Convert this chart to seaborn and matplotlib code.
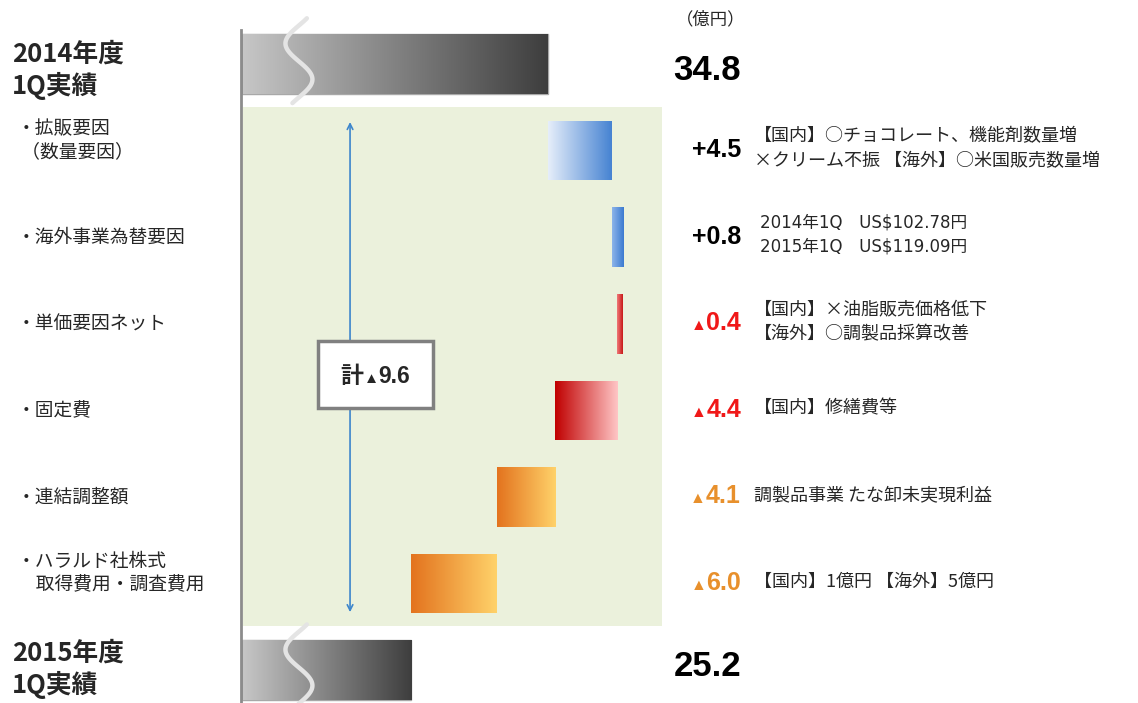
import numpy as np
import pandas as pd
import seaborn as sns
import matplotlib.pyplot as plt
import matplotlib.transforms as mtransforms
from matplotlib.patches import Rectangle
from matplotlib.colors import LinearSegmentedColormap

# 営業利益 増減要因 (億円)
items = ['2014年度1Q実績', '拡販要因', '海外事業為替要因', '単価要因ネット',
         '固定費', '連結調整額', 'ハラルド社株式取得費用・調査費用', '2015年度1Q実績']
row_labels = ['2014年度\n1Q実績', '・拡販要因\n （数量要因）', '・海外事業為替要因', '・単価要因ネット',
              '・固定費', '・連結調整額', '・ハラルド社株式\n\u3000取得費用・調査費用', '2015年度\n1Q実績']
base_value = 34.8
changes = [4.5, 0.8, -0.4, -4.4, -4.1, -6.0]
final_value = 25.2
total_label = ['計', '▲', '9.6']
value_labels = ['34.8', '+4.5', '+0.8', '▲0.4', '▲4.4', '▲4.1', '▲6.0', '25.2']
notes = ['',
         '【国内】○チョコレート、機能剤数量増\n×クリーム不振 【海外】○米国販売数量増',
         '2014年1Q\u3000US$102.78円\n2015年1Q\u3000US$119.09円',
         '【国内】×油脂販売価格低下\n【海外】○調製品採算改善',
         '【国内】修繕費等',
         '調製品事業 たな卸未実現利益',
         '【国内】1億円 【海外】5億円',
         '']
unit_label = '（億円）'

# bar start / end of the waterfall
starts, ends = [0.0], [base_value]
run = base_value
for c in changes:
    starts.append(run)
    run = round(run + c, 1)
    ends.append(run)
starts.append(0.0)
ends.append(final_value)
df = pd.DataFrame({'item': items, 'start': starts, 'end': ends})

grad_colors = [('#c6c6c6', '#3e3e3e'), ('#e6eefa', '#4683d2'), ('#8db5ea', '#3b7ad0'),
               ('#f07a7a', '#c81818'), ('#c00000', '#ffc6c6'), ('#e3731e', '#ffd26a'),
               ('#e3731e', '#ffd26a'), ('#c6c6c6', '#3e3e3e')]
value_colors = ['#000000', '#000000', '#000000', '#f01818', '#f01818', '#e8902c', '#e8902c', '#000000']

sns.set_style('white')
plt.rcParams['font.family'] = ['Noto Sans CJK JP', 'DejaVu Sans']

fig = plt.figure(figsize=(11.38, 7.03), dpi=100)
ax = fig.add_axes([241 / 1138, 0, 421 / 1138, 1])

sns.barplot(data=df, y='item', x='end', order=items, orient='h', width=0.69,
            color='#999999', saturation=1, errorbar=None, ax=ax, zorder=2)

xmin, xmax = 13.2, 42.85
ymin, ymax = -0.739, 7.379
bars = ax.containers[0].patches
for i, p in enumerate(bars):
    s, e = df.loc[i, 'start'], df.loc[i, 'end']
    lo, hi = min(s, e), max(s, e)
    p.set_x(lo)
    p.set_width(hi - lo)
    total = i in (0, len(items) - 1)
    p.set_edgecolor('#a8a8a8' if total else 'none')
    p.set_linewidth(1 if total else 0)
    cmap = LinearSegmentedColormap.from_list('g%d' % i, grad_colors[i])
    y0 = p.get_y()
    h = p.get_height()
    x0 = max(lo, xmin + 0.14)
    im = ax.imshow(np.linspace(0, 1, 256).reshape(1, -1), cmap=cmap, aspect='auto',
                   extent=[x0, hi, y0 + h, y0], zorder=2.1, interpolation='bilinear')
    im.set_clip_path(p)
    if total:
        # axis break mark
        t = np.linspace(-0.1, 1.08, 80)
        ys = y0 - 0.1 + t * (h + 0.14)
        xs = 17.28 - 0.95 * np.sin(2 * np.pi * t)
        ax.plot(xs, ys, color='#e4e4e4', lw=3.2, zorder=3, solid_capstyle='round')

# shaded panel for the change factors
ax.add_patch(Rectangle((xmin + 0.14, 0.5), xmax - xmin, 5.99, facecolor='#ebf1dc',
                       edgecolor='none', zorder=0))

# total change arrow and box
ax.annotate('', xy=(20.88, 0.67), xytext=(20.88, 6.33),
            arrowprops=dict(arrowstyle='<->', color='#3d86cc', lw=1.2,
                            shrinkA=0, shrinkB=0), zorder=3)
ax.add_patch(Rectangle((22.67 - 4.05, 3.585 - 0.387), 8.1, 0.774, facecolor='white',
                       edgecolor='#808080', lw=2.5, zorder=4))

ax.set_xlim(xmin, xmax)
ax.set_ylim(ymax, ymin)
ax.set_xticks([])
ax.set_yticks([])
ax.set_xlabel('')
ax.set_ylabel('')
for side in ('top', 'right', 'bottom'):
    ax.spines[side].set_visible(False)
ax.spines['left'].set_color('#8c8c8c')
ax.spines['left'].set_linewidth(2)
ax.spines['left'].set_bounds(-0.39, ymax)

renderer = fig.canvas.get_renderer()
ident = mtransforms.IdentityTransform()
trans = mtransforms.blended_transform_factory(fig.transFigure, ax.transData)


def row_px(row):
    return ax.transData.transform((xmin, row))[1]


def draw_runs(runs, x, y, ha='left'):
    texts = [fig.text(0, 0, s, transform=ident, va='baseline', ha='left', zorder=5, **kw)
             for s, kw in runs]
    widths = [t.get_window_extent(renderer).width for t in texts]
    total = sum(widths)
    pos = x - total if ha == 'right' else (x - total / 2 if ha == 'center' else x)
    for t, w in zip(texts, widths):
        t.set_position((pos, y))
        pos += w


num_font = ['Liberation Sans', 'DejaVu Sans']
for i, lab in enumerate(row_labels):
    total = i in (0, len(items) - 1)
    if total:
        ax.text(12 / 1138, i + (0.07 if i == 0 else -0.01), lab, transform=trans,
                ha='left', va='center', fontsize=18.5, fontweight='bold', linespacing=1.2)
    else:
        ax.text(17 / 1138, i - (0.12 if '\n' in lab else 0), lab, transform=trans,
                ha='left', va='center', fontsize=13.5, linespacing=1.15)

    size = 25 if total else 18
    cap = 0.716 * size * 100 / 72
    base_y = row_px(i + (0.04 if i == 0 else (-0.08 if i == 7 else -0.03))) - cap / 2
    txt = value_labels[i]
    runs = []
    if txt.startswith('▲'):
        runs.append(('▲', dict(fontsize=11.5, family=num_font, color=value_colors[i])))
        txt = txt[1:]
    runs.append((txt, dict(fontsize=size, fontweight='bold', family=num_font,
                           color=value_colors[i])))
    draw_runs(runs, 741, base_y, ha='right')

    if notes[i]:
        if i == 2:
            ax.text(760 / 1138, i - 0.03, notes[i], transform=trans, ha='left', va='center',
                    fontsize=12, linespacing=1.45, family=['DejaVu Sans', 'Noto Sans CJK JP'])
        else:
            ax.text(754 / 1138, i - 0.02, notes[i], transform=trans, ha='left', va='center',
                    fontsize=13, linespacing=1.5)

fig.text(711 / 1138, 1 - 19 / 703, unit_label, ha='center', va='center', fontsize=12.5)

# box label
cap = 0.716 * 16.5 * 100 / 72
draw_runs([(total_label[0], dict(fontsize=16.5, fontweight='bold')),
           (total_label[1], dict(fontsize=11, family=num_font)),
           (total_label[2], dict(fontsize=16.5, fontweight='bold', family=num_font))],
          ax.transData.transform((22.67, 0))[0], row_px(3.585) - cap / 2, ha='center')

fig.savefig('out.png', dpi=100)
